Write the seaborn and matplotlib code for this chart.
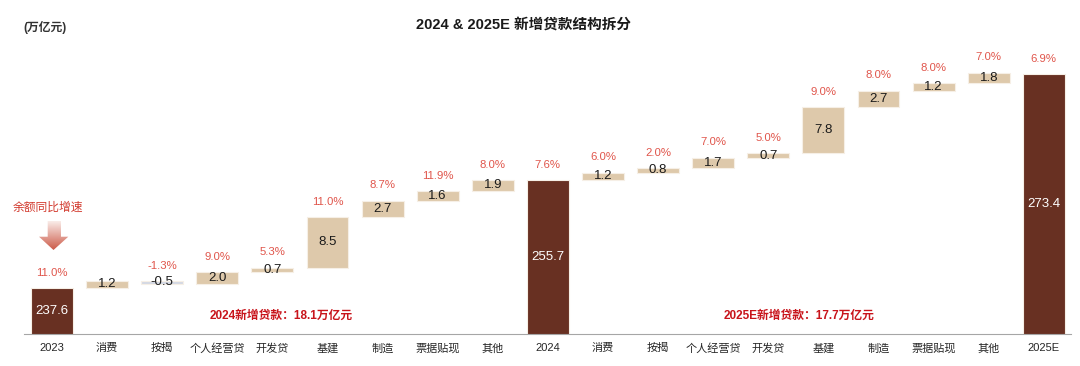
import numpy as np
import pandas as pd
import matplotlib
matplotlib.use("Agg")
import matplotlib.pyplot as plt
from matplotlib.patches import Polygon
import seaborn as sns

# ---- data ----
tick_labels = ["2023", "消费", "按揭", "个人经营贷", "开发贷", "基建", "制造", "票据贴现", "其他",
               "2024", "消费", "按揭", "个人经营贷", "开发贷", "基建", "制造", "票据贴现", "其他",
               "2025E"]
totals = {"2023": 237.6, "2024": 255.7, "2025E": 273.4}
inc_2024 = [1.2, -0.5, 2.0, 0.7, 8.5, 2.7, 1.6, 1.9]
inc_2025 = [1.2, 0.8, 1.7, 0.7, 7.8, 2.7, 1.2, 1.8]
growth = ["11.0%", None, "-1.3%", "9.0%", "5.3%", "11.0%", "8.7%", "11.9%", "8.0%",
          "7.6%", "6.0%", "2.0%", "7.0%", "5.0%", "9.0%", "8.0%", "8.0%", "7.0%",
          "6.9%"]
y_floor = 230

# ---- build waterfall table ----
rows = []
run = totals["2023"]
rows.append(("2023", 0.0, totals["2023"], "total"))
for lab, v in zip(tick_labels[1:9], inc_2024):
    rows.append((lab + "_24", run, v, "up" if v >= 0 else "down"))
    run += v
rows.append(("2024", 0.0, totals["2024"], "total"))
run = totals["2024"]
for lab, v in zip(tick_labels[10:18], inc_2025):
    rows.append((lab + "_25", run, v, "up" if v >= 0 else "down"))
    run += v
rows.append(("2025E", 0.0, totals["2025E"], "total"))
df = pd.DataFrame(rows, columns=["key", "bottom", "height", "kind"])

colors = {"total": "#683022", "up": "#DEC9AB", "down": "#D4D8E3"}

sns.set_style("white")
plt.rcParams["font.family"] = ["Liberation Sans", "Noto Sans CJK SC"]
plt.rcParams["axes.unicode_minus"] = False

W, H = 1080, 366
fig = plt.figure(figsize=(W / 100, H / 100), dpi=100)
ax = fig.add_axes([24.4 / W, (H - 333.5) / H, 1047 / W, 283.5 / H])

sns.barplot(data=df, x="key", y="height", order=list(df["key"]), bottom=df["bottom"].values,
            color=colors["up"], errorbar=None, width=0.76, ax=ax,
            edgecolor="#f6efe6", linewidth=0.8)
for patch, kind in zip(ax.patches, df["kind"]):
    patch.set_facecolor(colors[kind])

ax.set_ylim(y_floor, 277.4)
ax.set_xlim(-0.5, len(df) - 0.5)

# value labels and growth labels
for i, r in df.iterrows():
    if r["kind"] == "total":
        ax.text(i, (y_floor + r["height"]) / 2, f"{r['height']:.1f}", ha="center", va="center",
                color="white", fontsize=9.5)
        top = r["height"]
    else:
        ax.text(i, r["bottom"] + r["height"] / 2, f"{r['height']:.1f}", ha="center", va="center",
                color="#1a1a1a", fontsize=9.5)
        top = max(r["bottom"], r["bottom"] + r["height"])
    if growth[i] is not None:
        ax.annotate(growth[i], (i, top), xytext=(0, 11), textcoords="offset points",
                    ha="center", va="center", color="#E0554B", fontsize=8.2)

# axis styling
sns.despine(ax=ax, left=True)
ax.spines["bottom"].set_color("#A6A6A6")
ax.set_yticks([])
ax.set_xticks(range(len(df)))
ax.set_xticklabels(tick_labels, fontsize=8, color="#262626", fontweight="medium")
ax.tick_params(axis="x", which="major", length=0, pad=7)
ax.set_xticks(np.arange(-0.5, len(df), 1), minor=True)
ax.tick_params(axis="x", which="minor", length=4, color="#A6A6A6")
ax.set_xlabel("")
ax.set_ylabel("")

# texts
fig.text(524 / W, 1 - 25 / H, "2024 & 2025E 新增贷款结构拆分", ha="center", va="center",
         fontsize=10.5, fontweight="bold", color="#1a1a1a")
fig.text(23 / W, 1 - 27 / H, "(万亿元)", ha="left", va="center", fontsize=8.5,
         fontweight="bold", color="#333333")
fig.text(47.5 / W, 1 - 208 / H, "余额同比增速", ha="center", va="center", fontsize=8.5,
         color="#D23A2E")
fig.text(281.5 / W, 1 - 316 / H, "2024新增贷款：18.1万亿元", ha="center", va="center",
         fontsize=8.5, fontweight="bold", color="#C8141B")
fig.text(799 / W, 1 - 316 / H, "2025E新增贷款：17.7万亿元", ha="center", va="center",
         fontsize=8.5, fontweight="bold", color="#C8141B")

# gradient arrow (pixel frame)
arr_ax = fig.add_axes([36 / W, 1 - 252 / H, 34 / W, 32 / H])
arr_ax.set_xlim(36, 70)
arr_ax.set_ylim(252, 220)
arr_ax.axis("off")
grad = np.linspace(0, 1, 100).reshape(-1, 1)
cmap = matplotlib.colors.LinearSegmentedColormap.from_list("ar", ["#FBF1EE", "#C9503D"])
im = arr_ax.imshow(grad, cmap=cmap, extent=(36, 70, 252, 220), aspect="auto")
poly = Polygon([(47.7, 221), (61, 221), (61, 236.7), (68.3, 236.7), (53.5, 250),
                (39, 236.7), (47.7, 236.7)], closed=True, transform=arr_ax.transData,
               facecolor="none", edgecolor="none")
arr_ax.add_patch(poly)
im.set_clip_path(poly)

fig.savefig("out.png", dpi=100)
